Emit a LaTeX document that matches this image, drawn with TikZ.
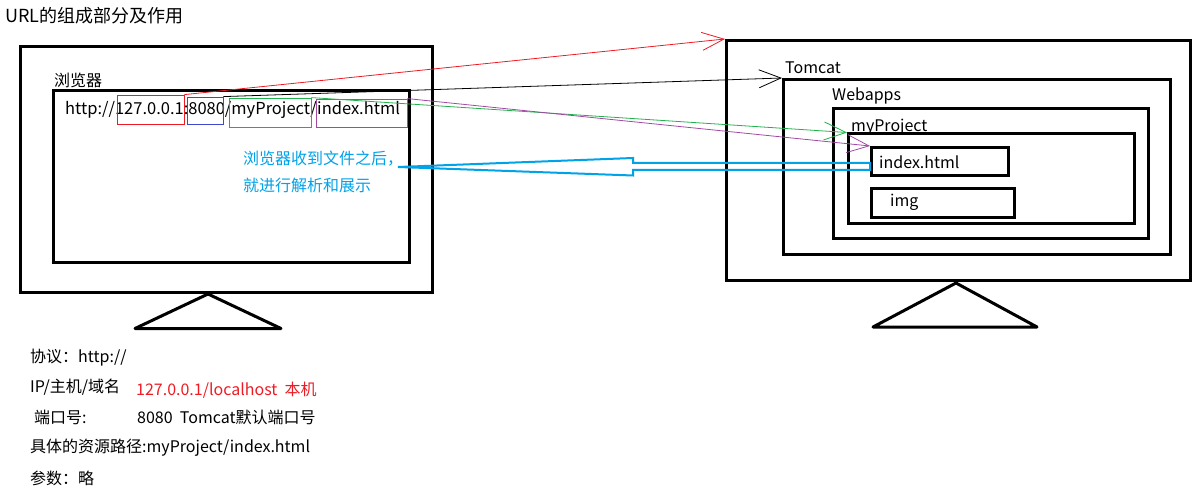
\documentclass[tikz,border=0pt]{standalone}
\usepackage{fontspec}
\setmainfont{Noto Sans CJK SC}
\usetikzlibrary{arrows.meta,fit,positioning}
\definecolor{paintred}{RGB}{237,28,36}
\definecolor{paintblue}{RGB}{63,72,204}
\definecolor{paintgreen}{RGB}{34,177,76}
\definecolor{paintpurple}{RGB}{163,73,164}
\definecolor{paintcyan}{RGB}{0,162,232}
\tikzset{
  frame/.style={draw, line width=3pt, inner sep=0pt},
  urlbox/.style={draw=#1, line width=0.8pt, inner sep=0pt},
  txt/.style={anchor=west, inner sep=0pt, font=\fontsize{16}{18}\selectfont},
  link/.style={draw=#1, line width=0.8pt, -{Straight Barb[length=22pt,width=18pt]}},
}

\begin{document}
\begin{tikzpicture}[x=1pt, y=-1pt]
  \useasboundingbox (0,0) rectangle (1197,497);
  \node[txt, font=\fontsize{18}{20}\selectfont] (title) at (5,16) {URL的组成部分及作用};

  % browser side
  \node[frame, fit={(20,47) (432,292)}] (pc) {};
  \node[frame, fit={(53.5,91) (409,263)}] (screen) {};
  \draw[line width=3pt, line join=round] (208,294) -- (281,328.5) -- (135,328.5) -- cycle;
  \node[txt] (browser) at (54,80) {浏览器};
  \node[txt, font=\fontsize{16.5}{18}\selectfont] (url) at (65,110) {http://127.0.0.1:8080/myProject/index.html};
  \node[urlbox=paintred, fit={(117,95) (184,124)}] (ip) {};
  \node[urlbox=paintblue, fit={(187,97) (223,124)}] (port) {};
  \node[urlbox=paintgreen, fit={(229,98) (311,127)}] (proj) {};
  \node[urlbox=paintpurple, fit={(316,99) (407,127)}] (file) {};

  % server side
  \node[frame, fit={(726.5,40.5) (1190.5,280.5)}] (server) {};
  \draw[line width=3pt, line join=round] (956,283) -- (1037,327) -- (873,327) -- cycle;
  \node[frame, fit={(783.5,79.5) (1170.5,255)}] (tomcat) {};
  \node[frame, fit={(833.5,109) (1148.5,238.5)}] (webapps) {};
  \node[frame, fit={(848.5,134) (1134,224)}] (myproj) {};
  \node[frame, fit={(871.5,147.5) (1008.5,176)}] (index) {};
  \node[frame, fit={(871.5,189) (1014,217.5)}] (img) {};
  \node[txt] (tomcatlbl) at (785,68) {Tomcat};
  \node[txt] (webappslbl) at (832,96) {Webapps};
  \node[txt] (myprojlbl) at (851,127) {myProject};
  \node[txt] (indexlbl) at (879,162) {index.html};
  \node[txt] (imglbl) at (890,202) {img};

  % request links
  \draw[link=paintred] (ip.north east) -- (server.north west);
  \draw[link=black] (port.north east) -- (tomcat.north west);
  \draw[link=paintgreen] (proj.north east) -- (myproj.north west);
  \draw[link=paintpurple] (file.north east) -- (index.north west);

  % response
  \node[txt, text=paintcyan, align=left, anchor=north west, font=\fontsize{16}{27}\selectfont] (render) at (243,151)
    {浏览器收到文件之后，\\就进行解析和展示};
  \coordinate (tip) at (398,167);
  \draw[paintcyan, line width=2pt, line join=miter]
    (tip) -- (633,158) -- (633,163) -- (index.west |- 0,163) -- (index.west |- 0,170)
    -- (633,170) -- (633,175.5) -- cycle;

  % notes
  \node[txt] (proto) at (30,358) {协议：http://};
  \node[txt] (host) at (30,387) {IP/主机/域名};
  \node[txt, text=paintred] (hostval) at (136,390) {127.0.0.1/localhost\ \ 本机};
  \node[txt] (portlbl) at (34,417) {端口号:};
  \node[txt] (portval) at (137,417) {8080\ \ Tomcat默认端口号};
  \node[txt] (path) at (30,448) {具体的资源路径:myProject/index.html};
  \node[txt] (param) at (30,478) {参数：略};
\end{tikzpicture}
\end{document}
